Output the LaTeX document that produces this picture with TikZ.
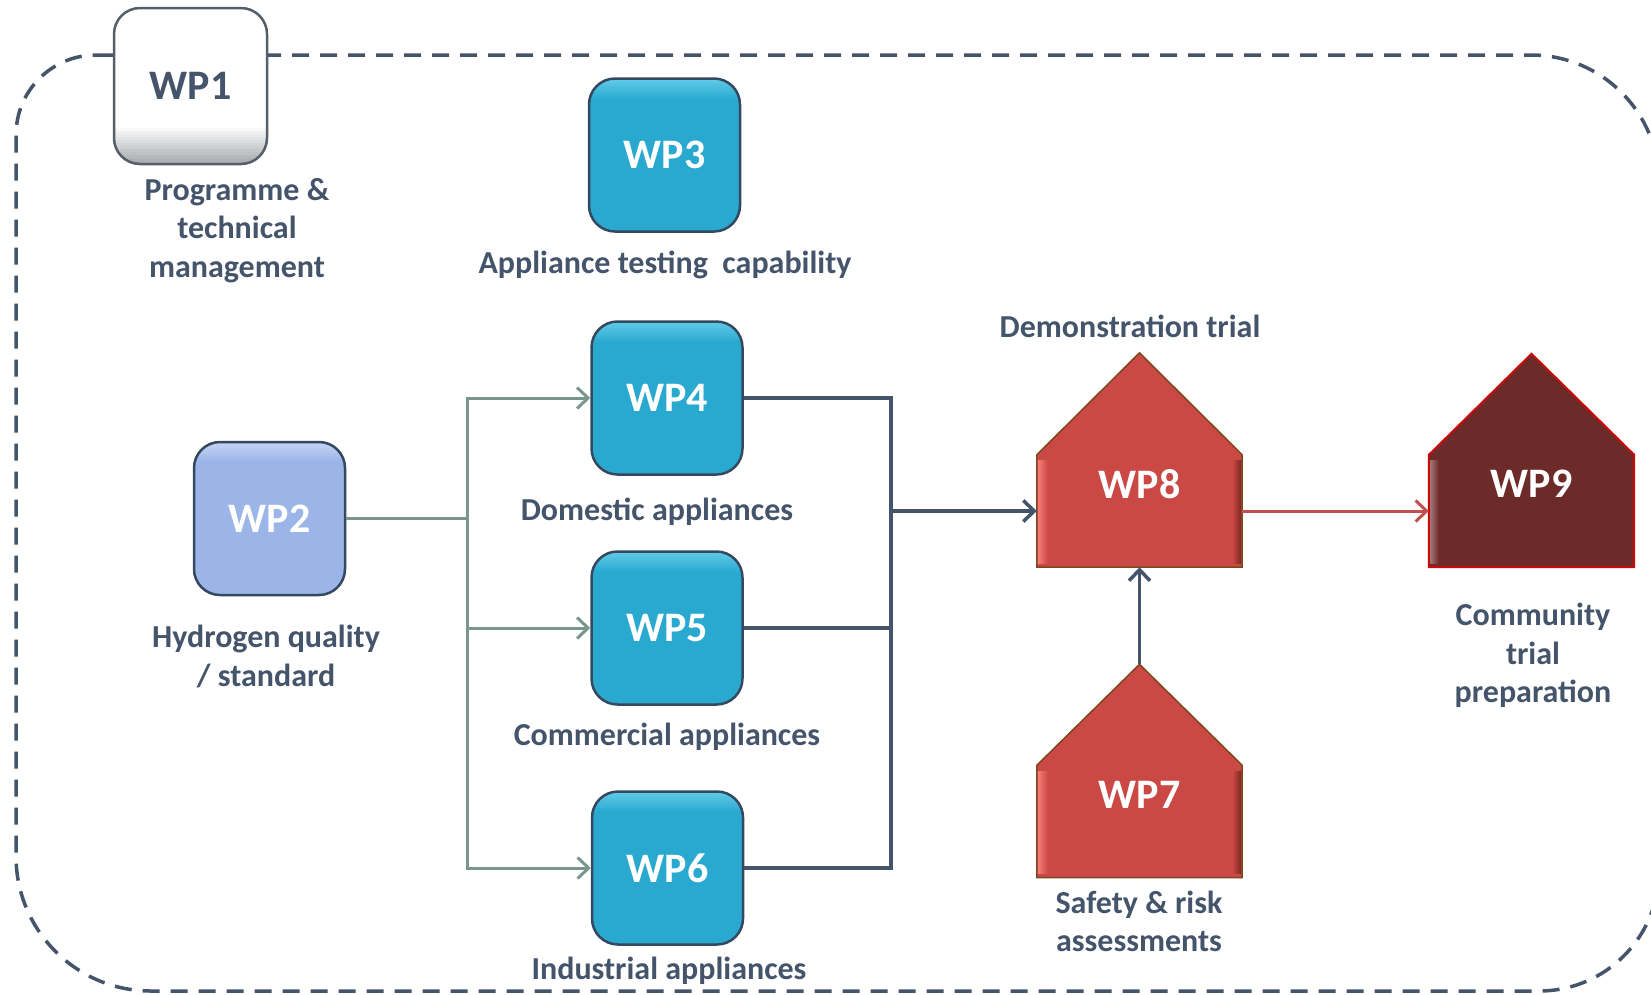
\documentclass[tikz,border=0pt]{standalone}
\usepackage{fontspec}
\setmainfont{Carlito}
\usetikzlibrary{arrows.meta,calc}
\definecolor{txt}{RGB}{68,84,106}
\definecolor{tealfill}{RGB}{42,169,208}
\definecolor{tealhi}{RGB}{100,205,235}
\definecolor{boxedge}{RGB}{52,72,95}
\definecolor{bluefill}{RGB}{155,181,232}
\definecolor{bluehi}{RGB}{200,215,246}
\definecolor{greyedge}{RGB}{85,95,105}
\definecolor{greyshade}{RGB}{170,172,176}
\definecolor{housered}{RGB}{203,73,69}
\definecolor{houseedge}{RGB}{125,70,30}
\definecolor{houselight}{RGB}{245,125,120}
\definecolor{housedark}{RGB}{120,40,35}
\definecolor{darkhouse}{RGB}{108,42,40}
\definecolor{darkhouseedge}{RGB}{200,10,10}
\definecolor{greenline}{RGB}{120,150,138}
\definecolor{redline}{RGB}{192,80,77}
\tikzset{
  lbl/.style={text=txt, font=\fontsize{32}{38.5}\selectfont\bfseries, align=center, inner sep=0pt, anchor=base},
  wplbl/.style={font=\fontsize{42}{50}\selectfont\bfseries, text=white, inner sep=0pt},
  rbox/.style={rounded corners=26pt, minimum width=151pt, minimum height=153pt, line width=2.5pt, draw=boxedge, inner sep=0pt,
    font=\fontsize{42}{50}\selectfont\bfseries, text=white},
  tophi/.style={path picture={
      \foreach \i [evaluate=\i as \op using 0.9-\i/11] in {0,...,9}{
        \fill[#1, opacity=\op, sharp corners]
          ([yshift={-2pt*\i}]path picture bounding box.north west) rectangle
          ([yshift={-2pt*\i-2pt}]path picture bounding box.north east);}}},
  tealbox/.style={rbox, fill=tealfill, tophi=tealhi},
  bluebox/.style={rbox, fill=bluefill, tophi=bluehi},
  whitebox/.style={rbox, draw=greyedge, fill=white, text=txt, path picture={
      \foreach \i [evaluate=\i as \op using 1-\i/12] in {0,...,11}{
        \fill[greyshade, opacity=\op, sharp corners]
          ([yshift={3pt*\i}]path picture bounding box.south west) rectangle
          ([yshift={3pt*\i+3pt}]path picture bounding box.south east);}}},
  housebody/.style={minimum width=205pt, minimum height=112pt, inner sep=0pt},
  gline/.style={draw=greenline, line width=3pt},
  dline/.style={draw=txt, line width=3.5pt},
  rline/.style={draw=redline, line width=3pt},
  barb/.style={-{Straight Barb[length=11pt,width=21pt]}},
}
\begin{document}
\begin{tikzpicture}[x=1pt,y=-1pt]
\useasboundingbox (0,0) rectangle (1651,994);
\clip (0,0) rectangle (1651,994);

% dashed frame
\draw[txt, line width=3.5pt, dash pattern=on 17pt off 11pt]
  (96,55) -- (1531,55)
  .. controls (1601.7,55) and (1659,112.3) .. (1659,183)
  -- (1659,871)
  .. controls (1659,937.3) and (1605.3,991) .. (1539,991)
  -- (151,991)
  .. controls (76.4,991) and (16,930.6) .. (16,856)
  -- (16,135)
  .. controls (16,90.8) and (51.8,55) .. (96,55) -- cycle;

% rounded boxes
\node[whitebox, minimum width=153pt, minimum height=156pt] (wp1) at (190.5,86) {WP1};
\node[tealbox] (wp3) at (664.5,155) {WP3};
\node[tealbox] (wp4) at (667,398) {WP4};
\node[tealbox] (wp5) at (667,628) {WP5};
\node[tealbox] (wp6) at (667.5,868) {WP6};
\node[bluebox] (wp2) at (269.5,518.5) {WP2};

% houses
\node[housebody] (wp8) at (1139.5,511) {};
\node[housebody] (wp7) at (1139.5,821.5) {};
\node[housebody] (wp9) at (1531.5,511) {};
\coordinate (wp8apex) at ($(wp8.north)+(0,-102)$);
\coordinate (wp7apex) at ($(wp7.north)+(0,-101)$);
\coordinate (wp9apex) at ($(wp9.north)+(0,-101)$);

\foreach \h in {wp8,wp7} {
  \filldraw[fill=housered, draw=houseedge, line width=1.5pt]
    (\h.south west) -- (\h.north west) -- (\h apex) -- (\h.north east) -- (\h.south east) -- cycle;
  \fill[left color=houselight, right color=housered]
    ($(\h.north west)+(1,6)$) rectangle ($(\h.south west)+(11,-4)$);
  \fill[left color=housered, right color=housedark]
    ($(\h.north east)+(-10,6)$) rectangle ($(\h.south east)+(-1,-4)$);
}
\filldraw[fill=darkhouse, draw=darkhouseedge, line width=2pt]
  (wp9.south west) -- (wp9.north west) -- (wp9apex) -- (wp9.north east) -- (wp9.south east) -- cycle;
\fill[left color=darkhouse!65!white, right color=darkhouse]
  ($(wp9.north west)+(1.5,6)$) rectangle ($(wp9.south west)+(10,-4)$);

\node[wplbl] (t8) at (1139.5,484) {WP8};
\node[wplbl] (t7) at (1139.5,795) {WP7};
\node[wplbl] (t9) at (1531.5,484) {WP9};

% green connectors
\coordinate (gj) at (467,518.5);
\draw[gline] (wp2.east) -- (gj);
\draw[gline, barb] (gj) |- (wp4.west);
\draw[gline, barb] (gj) |- (wp6.west);
\draw[gline, barb] (wp5.west -| gj) -- (wp5.west);

% dark connectors
\coordinate (dj) at (891,511);
\draw[dline] (wp4.east) -| (dj);
\draw[dline] (wp6.east) -| (dj);
\draw[dline] (wp5.east) -- (wp5.east -| dj);
\draw[dline, barb] (dj) -- (wp8.west);
\draw[dline, barb] (wp7apex) -- (wp8.south);

% red connector
\draw[rline, barb] (wp8.east) -- (wp9.west);

% labels
\node[lbl] (l1) at (237,277) {Programme \&\\technical\\management};
\node[lbl] (l3) at (665,273.5) {Appliance testing\ \ capability};
\node[lbl] (l2) at (266,686) {Hydrogen quality\\/ standard};
\node[lbl] (l4) at (657,520.5) {Domestic appliances};
\node[lbl] (l5) at (667,745) {Commercial appliances};
\node[lbl] (l6) at (669,979) {Industrial appliances};
\node[lbl] (l8) at (1130,337) {Demonstration trial};
\node[lbl] (l7) at (1139,951.5) {Safety \& risk\\assessments};
\node[lbl] (l9) at (1533,702.5) {Community\\trial\\preparation};
\end{tikzpicture}
\end{document}
